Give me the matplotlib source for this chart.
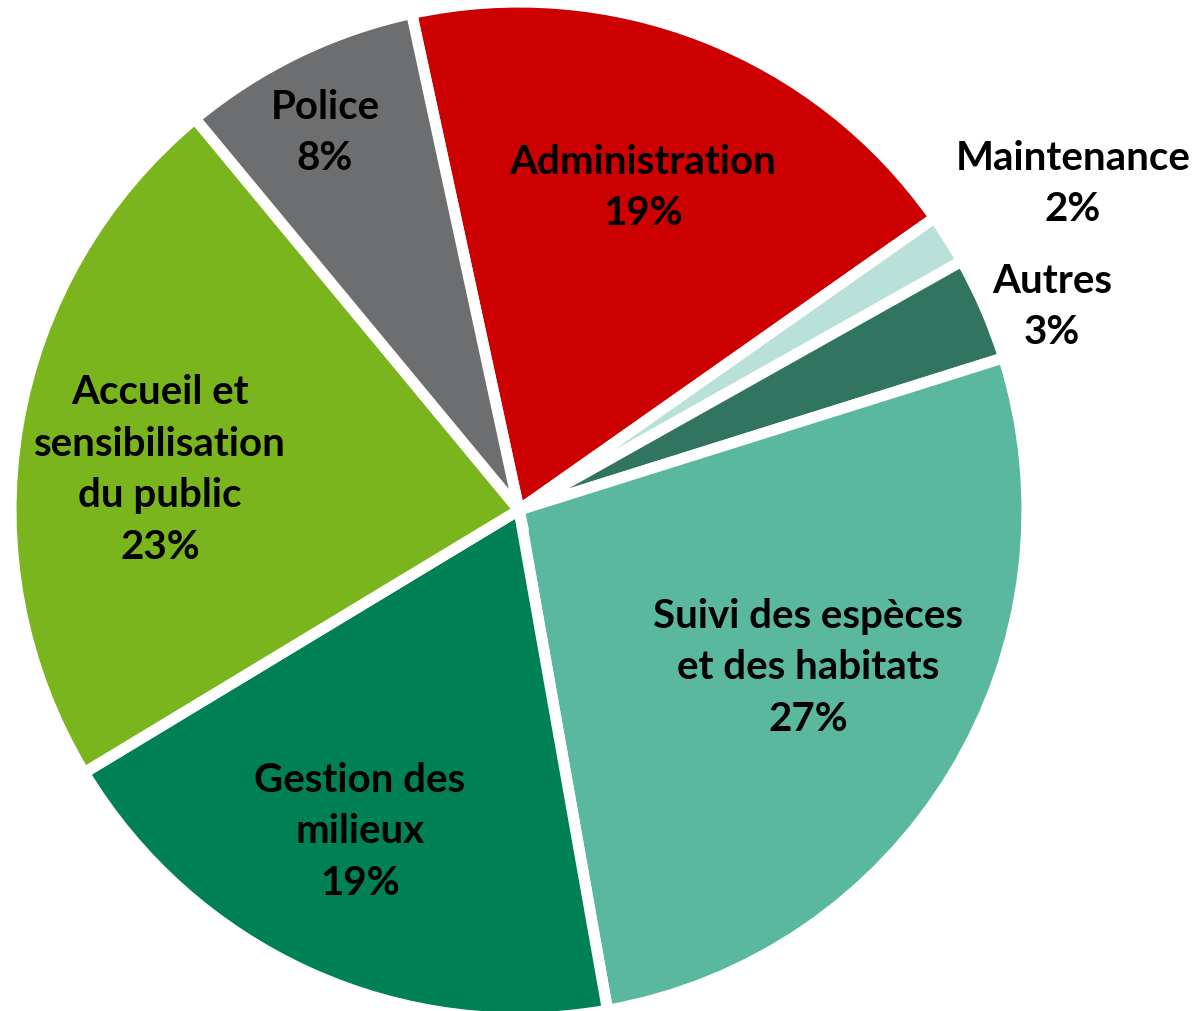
import matplotlib.pyplot as plt

# Répartition du temps de travail (%)
categories = ['Administration', 'Maintenance', 'Autres',
              'Suivi des espèces\net des habitats', 'Gestion des\nmilieux',
              'Accueil et\nsensibilisation\ndu public', 'Police']
values = [18.6, 1.6, 3.3, 27.0, 19.1, 22.6, 7.6]
colors = ['#CC0000', '#B9E1D9', '#317460', '#59B89D', '#008055', '#7BB51E', '#6D6E70']

# centre du camembert à (519, 511) px, rayon 508 px
cx, cy, r = 519, 511, 508
# position des étiquettes (pixels de l'image)
label_px = [(643, 188), (1073, 184), (1052, 307), (808, 668),
            (360, 832), (160, 470), (325, 133)]

plt.rcParams['font.family'] = ['Lato', 'DejaVu Sans']

fig = plt.figure(figsize=(11.98, 10.12), dpi=100)
ax = fig.add_axes([0, 0, 1, 1])
ax.axis('off')

wedges, _ = ax.pie(values, colors=colors, startangle=102.2, counterclock=False,
                   radius=1.0, center=(0, 0),
                   wedgeprops=dict(edgecolor='white', linewidth=8))

for name, v, (px, py) in zip(categories, values, label_px):
    ax.text((px - cx) / r, (cy - py) / r, f'{name}\n{int(v + 0.5)}%',
            ha='center', va='center', fontsize=29, fontweight='bold',
            color='black', linespacing=1.48)

ax.set_xlim(-cx / r, (1198 - cx) / r)
ax.set_ylim(-(1012 - cy) / r, cy / r)
ax.set_aspect('equal')

plt.savefig('out.png', dpi=100)
